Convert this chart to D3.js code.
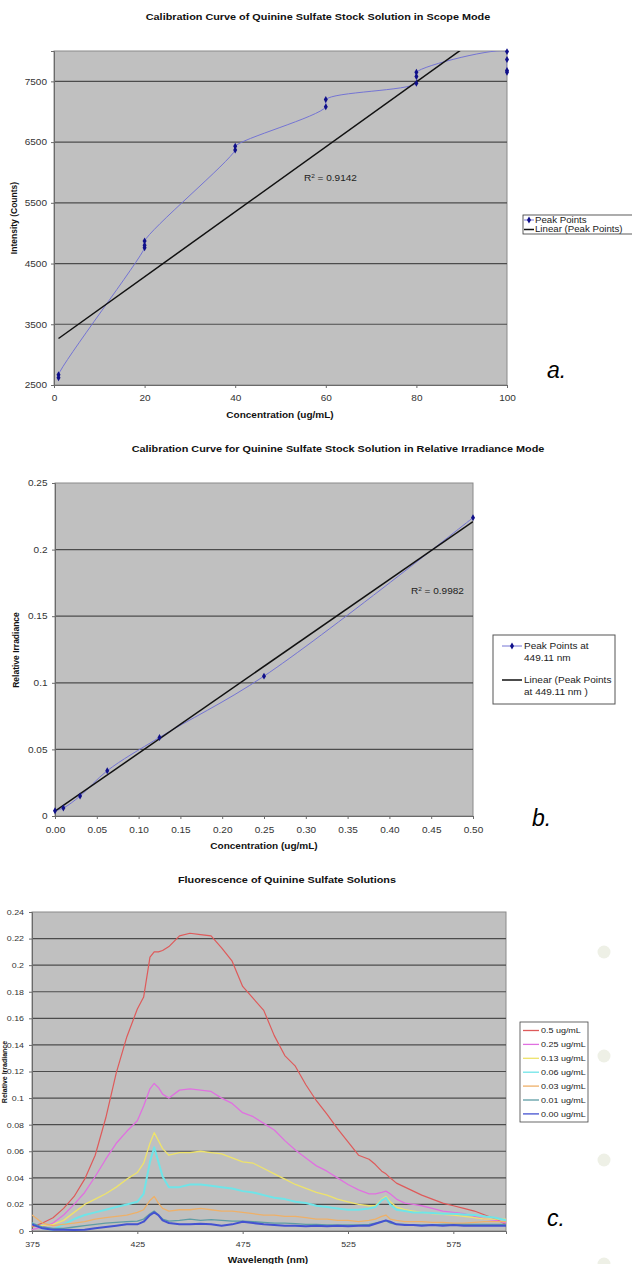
<!DOCTYPE html>
<html>
<head>
<meta charset="utf-8">
<script src="https://cdn.jsdelivr.net/npm/d3@7"></script>
<style>
body { margin: 0; background: #fff; }
svg { display: block; font-family: "Liberation Sans", Arial, sans-serif; }
</style>
</head>
<body>
<div id="chart"></div>
<script>
/**
 * Chart a: scope mode calibration
 */
var scopeConc = [1, 1, 20, 20, 20, 40, 40, 60, 60, 80, 80, 80, 100, 100, 100, 100];
var scopeCounts = [2620, 2670, 4760, 4800, 4870, 6370, 6430, 7080, 7200, 7470, 7580, 7650, 7990, 7860, 7680, 7650];
var scopeTrend = {slope: 53.5, intercept: 3212, r2: "0.9142"};
var scopeXTicks = [0, 20, 40, 60, 80, 100];
var scopeYTicks = [2500, 3500, 4500, 5500, 6500, 7500];

/**
 * Chart b: relative irradiance calibration
 */
var irrConc = [0, 0.01, 0.03, 0.0625, 0.125, 0.25, 0.5];
var irrValue = [0.004, 0.006, 0.015, 0.034, 0.059, 0.105, 0.224];
var irrTrend = {slope: 0.435, intercept: 0.0036, r2: "0.9982"};
var irrXTicks = [0, 0.05, 0.10, 0.15, 0.20, 0.25, 0.30, 0.35, 0.40, 0.45, 0.50];
var irrYTicks = [0, 0.05, 0.1, 0.15, 0.2, 0.25];

/**
 * Chart c: fluorescence spectra
 */
var wavelengths = [375, 380, 385, 390, 395, 400, 405, 410, 415, 420, 425,
  428, 431, 433, 435, 437,
  440, 445, 450, 455, 460, 465, 470, 475, 480, 485, 490, 495, 500, 505, 510, 515, 520, 525, 530, 535,
  538, 541, 543, 545, 548, 552, 556,
  560, 565, 570, 575, 580, 585, 590, 595, 600];
var spec050 = [0.003, 0.006, 0.010, 0.017, 0.026, 0.039, 0.057, 0.085, 0.119, 0.146, 0.167,
  0.176, 0.206, 0.210, 0.210, 0.211,
  0.214, 0.222, 0.224, 0.223, 0.222, 0.213, 0.203, 0.184, 0.175, 0.166, 0.147, 0.132, 0.124, 0.110, 0.098, 0.088, 0.077, 0.067, 0.057, 0.054,
  0.050, 0.045, 0.043, 0.040, 0.036, 0.033, 0.030,
  0.027, 0.024, 0.021, 0.019, 0.017, 0.015, 0.012, 0.009, 0.005];
var spec025 = [0.001, 0.003, 0.006, 0.012, 0.020, 0.029, 0.041, 0.054, 0.066, 0.075, 0.083,
  0.094, 0.107, 0.111, 0.108, 0.103,
  0.100, 0.106, 0.107, 0.106, 0.105, 0.100, 0.096, 0.089, 0.086, 0.081, 0.076, 0.068, 0.061, 0.055, 0.049, 0.045, 0.040, 0.035, 0.031, 0.028,
  0.028, 0.029, 0.030, 0.028, 0.024, 0.021, 0.020,
  0.019, 0.017, 0.015, 0.014, 0.013, 0.011, 0.009, 0.008, 0.006];
var spec013 = [0.004, 0.004, 0.005, 0.008, 0.014, 0.020, 0.024, 0.028, 0.033, 0.039, 0.044,
  0.051, 0.066, 0.074, 0.068, 0.062,
  0.057, 0.059, 0.059, 0.060, 0.059, 0.058, 0.055, 0.052, 0.051, 0.047, 0.043, 0.039, 0.035, 0.032, 0.029, 0.027, 0.024, 0.022, 0.020, 0.019,
  0.019, 0.024, 0.026, 0.022, 0.018, 0.016, 0.015,
  0.014, 0.013, 0.0125, 0.012, 0.011, 0.010, 0.009, 0.009, 0.009];
var spec006 = [0.006, 0.002, 0.001, 0.005, 0.009, 0.012, 0.014, 0.016, 0.018, 0.020, 0.022,
  0.028, 0.052, 0.063, 0.052, 0.041,
  0.033, 0.033, 0.035, 0.035, 0.034, 0.033, 0.032, 0.030, 0.029, 0.027, 0.025, 0.024, 0.022, 0.021, 0.019, 0.018, 0.017, 0.016, 0.016, 0.017,
  0.018, 0.023, 0.025, 0.020, 0.016, 0.015, 0.014,
  0.014, 0.0135, 0.013, 0.013, 0.0125, 0.012, 0.011, 0.010, 0.008];
var spec003 = [0.012, 0.006, 0.004, 0.005, 0.006, 0.007, 0.009, 0.010, 0.011, 0.012, 0.014,
  0.016, 0.023, 0.026, 0.021, 0.017,
  0.015, 0.016, 0.016, 0.017, 0.016, 0.015, 0.015, 0.014, 0.013, 0.012, 0.012, 0.011, 0.011, 0.010, 0.009, 0.009, 0.008, 0.008, 0.007, 0.008,
  0.009, 0.011, 0.012, 0.009, 0.008, 0.007, 0.007,
  0.007, 0.0065, 0.0065, 0.006, 0.006, 0.0065, 0.007, 0.007, 0.007];
var spec001 = [0.006, 0.003, 0.002, 0.002, 0.003, 0.004, 0.005, 0.006, 0.0065, 0.007, 0.0075,
  0.009, 0.013, 0.015, 0.012, 0.009,
  0.0075, 0.008, 0.009, 0.008, 0.0085, 0.008, 0.0075, 0.0075, 0.007, 0.0065, 0.006, 0.006, 0.0055, 0.005, 0.005, 0.0045, 0.0045, 0.0045, 0.0045, 0.005,
  0.006, 0.007, 0.0075, 0.006, 0.005, 0.005, 0.0045,
  0.0045, 0.0045, 0.005, 0.005, 0.005, 0.005, 0.005, 0.005, 0.005];
var spec000 = [0.005, 0.002, 0.001, 0.001, 0.0008, 0.001, 0.002, 0.003, 0.004, 0.005, 0.005,
  0.007, 0.012, 0.014, 0.012, 0.008,
  0.006, 0.005, 0.005, 0.0055, 0.005, 0.004, 0.005, 0.007, 0.006, 0.005, 0.0045, 0.004, 0.004, 0.0035, 0.004, 0.0035, 0.004, 0.0035, 0.004, 0.004,
  0.0055, 0.007, 0.008, 0.007, 0.005, 0.0045, 0.0045,
  0.004, 0.0045, 0.004, 0.0045, 0.004, 0.004, 0.004, 0.004, 0.004];
var specNames = ["0.5 ug/mL", "0.25 ug/mL", "0.13 ug/mL", "0.06 ug/mL", "0.03 ug/mL", "0.01 ug/mL", "0.00 ug/mL"];
var specValues = [spec050, spec025, spec013, spec006, spec003, spec001, spec000];
var specColors = ["#de5a5a", "#e070e0", "#eee36a", "#6fe4e8", "#eeb068", "#5e9ca4", "#4452d0"];
var specWidths = [1.2, 1.3, 1.3, 2, 1.3, 1.3, 2];
var specXTicks = [375, 425, 475, 525, 575];
var specYTicks = [0, 0.02, 0.04, 0.06, 0.08, 0.1, 0.12, 0.14, 0.16, 0.18, 0.2, 0.22, 0.24];

var width = 632;
var height = 1264;
var SX = 1.18; // the source picture is stretched sideways
var svg = d3.select("#chart").append("svg")
  .attr("width", width)
  .attr("height", height);

/**
 * Put a (sideways stretched) text at x, y
 */
function addText(g, x, y, s, size, opt) {
  opt = opt || {};
  var tr = "translate(" + x + "," + y + ")";
  if (opt.rotate) tr += " rotate(" + opt.rotate + ")";
  tr += " scale(" + (opt.sx || SX) + ",1)";
  return g.append("text")
    .attr("transform", tr)
    .attr("text-anchor", opt.anchor || "start")
    .attr("font-size", size)
    .attr("font-weight", opt.bold ? "bold" : null)
    .attr("font-style", opt.italic ? "italic" : null)
    .attr("fill", opt.fill || "#111")
    .attr("dy", opt.dy || null)
    .text(s);
}

/**
 * Gray plot area, gridlines, axes and a clipped group for the marks
 */
function makePanel(p) {
  var x = d3.scaleLinear().domain(p.xDomain).range([p.left, p.right]);
  var y = d3.scaleLinear().domain(p.yDomain).range([p.bottom, p.top]);
  var g = svg.append("g");

  g.append("rect")
    .attr("x", p.left).attr("y", p.top)
    .attr("width", p.right - p.left).attr("height", p.bottom - p.top)
    .attr("fill", "#c0c0c0")
    .attr("stroke", "#8a8a8a");

  g.selectAll(".grid")
    .data(p.yTicks.filter(v => v > p.yDomain[0] && v < p.yDomain[1]))
    .enter().append("line")
    .attr("x1", p.left).attr("x2", p.right)
    .attr("y1", d => y(d)).attr("y2", d => y(d))
    .attr("stroke", "#4c4c4c")
    .attr("stroke-width", 1.2);

  var xAxis = g.append("g")
    .attr("transform", "translate(0," + p.bottom + ")")
    .call(d3.axisBottom(x).tickValues(p.xTicks).tickFormat(p.xFmt).tickSize(3).tickPadding(p.xPad));
  var yAxis = g.append("g")
    .attr("transform", "translate(" + p.left + ",0)")
    .call(d3.axisLeft(y).tickValues(p.yTicks).tickFormat(p.yFmt).tickSize(3).tickPadding(p.yPad));

  [xAxis, yAxis].forEach(function(a) {
    a.attr("font-family", null).attr("font-size", p.tickSize);
    a.select(".domain").attr("stroke", "#6a6a6a");
    a.selectAll(".tick line").attr("stroke", "#6a6a6a");
    a.selectAll(".tick text").attr("fill", "#333").each(function() {
      var t = d3.select(this);
      t.attr("x", (+t.attr("x") || 0) / SX).attr("transform", "scale(" + SX + ",1)");
    });
  });

  var id = "clip-" + p.name;
  svg.append("clipPath").attr("id", id).append("rect")
    .attr("x", p.left).attr("y", p.top)
    .attr("width", p.right - p.left).attr("height", p.bottom - p.top);
  var plot = g.append("g").attr("clip-path", "url(#" + id + ")");

  return {x: x, y: y, g: g, plot: plot};
}

function r2Label(g, x, y, value) {
  var t = g.append("text")
    .attr("transform", "translate(" + x + "," + y + ") scale(" + SX + ",1)")
    .attr("font-size", 8.5).attr("fill", "#222");
  t.append("tspan").text("R");
  t.append("tspan").attr("font-size", 5.5).attr("dy", -3.5).text("2");
  t.append("tspan").attr("dy", 3.5).text(" = " + value);
}

var fmtTrim = d => String(+d.toFixed(2));
var diamond = d3.symbol().type(d3.symbolDiamond).size(14);

// ---------- chart a ----------
var pa = makePanel({
  name: "a", left: 54, right: 507, top: 51, bottom: 385,
  xDomain: [0, 100], yDomain: [2500, 8000],
  xTicks: scopeXTicks, yTicks: scopeYTicks,
  xFmt: d3.format("d"), yFmt: d3.format("d"),
  xPad: 7, yPad: 4, tickSize: 8.5
});
var scopePts = scopeConc.map((c, i) => [c, scopeCounts[i]]);
pa.plot.append("path")
  .datum(scopePts)
  .attr("fill", "none")
  .attr("stroke", "#7474d4")
  .attr("stroke-width", 1)
  .attr("d", d3.line().x(d => pa.x(d[0])).y(d => pa.y(d[1])).curve(d3.curveCatmullRom.alpha(0.5)));
var trendA = [1, 100].map(c => [c, scopeTrend.intercept + scopeTrend.slope * c]);
pa.plot.append("path")
  .datum(trendA)
  .attr("fill", "none")
  .attr("stroke", "#111")
  .attr("stroke-width", 1.5)
  .attr("d", d3.line().x(d => pa.x(d[0])).y(d => pa.y(d[1])));
pa.g.selectAll(".pt")
  .data(scopePts)
  .enter().append("path")
  .attr("transform", d => "translate(" + pa.x(d[0]) + "," + pa.y(d[1]) + ")")
  .attr("d", diamond)
  .attr("fill", "#10108a");
r2Label(pa.g, 304, 181, scopeTrend.r2);
addText(svg, 318, 20, "Calibration Curve of Quinine Sulfate Stock Solution in Scope Mode", 9.2, {anchor: "middle", bold: true});
addText(svg, 280, 418, "Concentration (ug/mL)", 8.5, {anchor: "middle", bold: true});
addText(svg, 17, 218, "Intensity (Counts)", 8.5, {anchor: "middle", bold: true, rotate: -90, sx: 1});

// legend a
var la = svg.append("g");
la.append("rect").attr("x", 523).attr("y", 215).attr("width", 130).attr("height", 19)
  .attr("fill", "#fff").attr("stroke", "#333").attr("stroke-width", 0.8);
la.append("line").attr("x1", 524).attr("x2", 534).attr("y1", 220).attr("y2", 220).attr("stroke", "#7474d4");
la.append("path").attr("transform", "translate(529,220)").attr("d", diamond).attr("fill", "#10108a");
la.append("line").attr("x1", 524).attr("x2", 534).attr("y1", 229.5).attr("y2", 229.5).attr("stroke", "#111").attr("stroke-width", 1.5);
addText(la, 535, 220, "Peak Points", 8.2, {dy: "0.35em", fill: "#222"});
addText(la, 535, 229.5, "Linear (Peak Points)", 8.2, {dy: "0.35em", fill: "#222"});

// ---------- chart b ----------
var pb = makePanel({
  name: "b", left: 55, right: 473, top: 483, bottom: 816,
  xDomain: [0, 0.5], yDomain: [0, 0.25],
  xTicks: irrXTicks, yTicks: irrYTicks,
  xFmt: d3.format(".2f"), yFmt: fmtTrim,
  xPad: 8, yPad: 4.5, tickSize: 8.5
});
var irrPts = irrConc.map((c, i) => [c, irrValue[i]]);
pb.plot.append("path")
  .datum(irrPts)
  .attr("fill", "none")
  .attr("stroke", "#7474d4")
  .attr("stroke-width", 1)
  .attr("d", d3.line().x(d => pb.x(d[0])).y(d => pb.y(d[1])).curve(d3.curveCatmullRom.alpha(0.5)));
var trendB = [0, 0.5].map(c => [c, irrTrend.intercept + irrTrend.slope * c]);
pb.plot.append("path")
  .datum(trendB)
  .attr("fill", "none")
  .attr("stroke", "#111")
  .attr("stroke-width", 1.5)
  .attr("d", d3.line().x(d => pb.x(d[0])).y(d => pb.y(d[1])));
pb.g.selectAll(".pt")
  .data(irrPts)
  .enter().append("path")
  .attr("transform", d => "translate(" + pb.x(d[0]) + "," + pb.y(d[1]) + ")")
  .attr("d", diamond)
  .attr("fill", "#10108a");
r2Label(pb.g, 411, 594, irrTrend.r2);
addText(svg, 338, 452, "Calibration Curve for Quinine Sulfate Stock Solution in Relative Irradiance Mode", 9.2, {anchor: "middle", bold: true});
addText(svg, 264, 849, "Concentration (ug/mL)", 8.5, {anchor: "middle", bold: true});
addText(svg, 19, 650, "Relative Irradiance", 8.5, {anchor: "middle", bold: true, rotate: -90, sx: 1});

// legend b
var lb = svg.append("g");
lb.append("rect").attr("x", 493).attr("y", 635).attr("width", 122).attr("height", 69)
  .attr("fill", "#fff").attr("stroke", "#555").attr("stroke-width", 1);
lb.append("line").attr("x1", 502).attr("x2", 522).attr("y1", 646).attr("y2", 646).attr("stroke", "#7474d4");
lb.append("path").attr("transform", "translate(512,646)").attr("d", diamond).attr("fill", "#10108a");
lb.append("line").attr("x1", 502).attr("x2", 522).attr("y1", 680).attr("y2", 680).attr("stroke", "#111").attr("stroke-width", 1.5);
addText(lb, 524, 646, "Peak Points at", 8.5, {dy: "0.35em", fill: "#222"});
addText(lb, 524, 658, "449.11 nm", 8.5, {dy: "0.35em", fill: "#222"});
addText(lb, 524, 680, "Linear (Peak Points", 8.5, {dy: "0.35em", fill: "#222"});
addText(lb, 524, 692, "at 449.11 nm )", 8.5, {dy: "0.35em", fill: "#222"});

// ---------- chart c ----------
var pc = makePanel({
  name: "c", left: 32, right: 506, top: 912, bottom: 1231,
  xDomain: [375, 600], yDomain: [0, 0.24],
  xTicks: specXTicks, yTicks: specYTicks,
  xFmt: d3.format("d"), yFmt: fmtTrim,
  xPad: 8, yPad: 5, tickSize: 7.5
});
var specLine = d3.line().x(d => pc.x(d[0])).y(d => pc.y(d[1]));
specValues.forEach(function(vals, k) {
  pc.plot.append("path")
    .datum(wavelengths.map((w, i) => [w, vals[i]]))
    .attr("fill", "none")
    .attr("stroke", specColors[k])
    .attr("stroke-width", specWidths[k])
    .attr("stroke-linejoin", "round")
    .attr("d", specLine);
});
addText(svg, 287, 883, "Fluorescence of Quinine Sulfate Solutions", 9.2, {anchor: "middle", bold: true});
addText(svg, 268, 1263, "Wavelength (nm)", 8.5, {anchor: "middle", bold: true});
addText(svg, 7, 1072, "Relative Irradiance", 7, {anchor: "middle", bold: true, rotate: -90, sx: 1});

// legend c
var lc = svg.append("g");
lc.append("rect").attr("x", 520).attr("y", 1022).attr("width", 68).attr("height", 100)
  .attr("fill", "#fff").attr("stroke", "#444").attr("stroke-width", 0.8);
var lcItem = lc.selectAll(".item")
  .data(specNames)
  .enter().append("g")
  .attr("transform", (d, i) => "translate(0," + (1030.5 + i * 13.9) + ")");
lcItem.append("line")
  .attr("x1", 523).attr("x2", 539)
  .attr("stroke", (d, i) => specColors[i])
  .attr("stroke-width", 1.3);
lcItem.each(function(d) {
  addText(d3.select(this), 541, 0, d, 7.6, {dy: "0.35em", fill: "#222"});
});

// panel letters
var letters = [["a.", 547, 378], ["b.", 532, 826], ["c.", 547, 1226]];
letters.forEach(function(l) {
  addText(svg, l[1], l[2], l[0], 23, {italic: true, sx: 1, fill: "#000"});
});

// faint round marks at the right edge of the page
var decorDots = [952, 1056, 1160, 1264];
svg.selectAll(".dot")
  .data(decorDots)
  .enter().append("circle")
  .attr("cx", 604).attr("cy", d => d).attr("r", 6.5)
  .attr("fill", "#eef0e6");
</script>
</body>
</html>
